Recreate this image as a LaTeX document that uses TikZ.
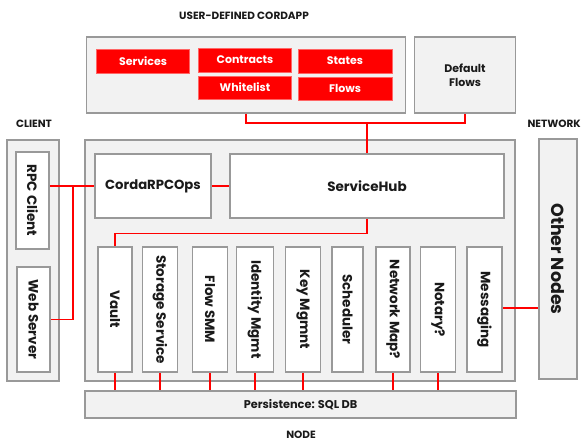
\documentclass[tikz,border=0pt]{standalone}
\usepackage{fontspec}
\usepackage{graphicx}
\setmainfont{Poppins}
\definecolor{boxgray}{HTML}{999999}
\definecolor{fillgray}{HTML}{F2F2F2}
\definecolor{cred}{HTML}{FF0000}
\definecolor{txt}{HTML}{1A1A1A}
\tikzset{
  outerbox/.style={draw=boxgray, line width=1.5pt, fill=fillgray, inner sep=0pt, rectangle},
  whitebox/.style={draw=boxgray, line width=1.5pt, fill=white, inner sep=0pt, rectangle, text=txt, font=\bfseries\fontsize{13.5}{16}\selectfont},
  redbox/.style={fill=cred, draw=cred!60!white, line width=0.8pt, inner sep=0pt, rectangle, text=white, font=\bfseries\fontsize{11}{13}\selectfont, minimum width=93pt, minimum height=24pt},
  svcbox/.style={whitebox, minimum height=125pt, font=\bfseries\fontsize{13.5}{15}\selectfont},
  lbl/.style={text=txt, font=\bfseries\fontsize{10.5}{12}\selectfont, inner sep=0pt},
  wire/.style={draw=cred, line width=1.5pt}
}
\newcommand{\vtext}[1]{\rotatebox[origin=c]{-90}{#1}}
\begin{document}
\begin{tikzpicture}[x=1pt,y=-1pt]
\useasboundingbox (0,0) rectangle (582,441);
% labels
\node[lbl] (title) at (244,16) {USER-DEFINED CORDAPP};
\node[lbl] (clientlbl) at (34,124) {CLIENT};
\node[lbl, anchor=east] (netlbl) at (581,124) {NETWORK};
\node[lbl] (nodelbl) at (301,435) {NODE};
% cordapp
\node[outerbox, minimum width=319pt, minimum height=76pt] (cordapp) at (246,75) {};
\node[redbox] (services) at (143,61) {Services};
\node[redbox] (contracts) at (245,60) {Contracts};
\node[redbox, minimum width=94pt] (states) at (345,61) {States};
\node[redbox, minimum height=23pt] (whitelist) at (245,87.5) {Whitelist};
\node[redbox, minimum width=94pt, minimum height=23pt] (flows) at (345,88.5) {Flows};
\node[outerbox, minimum width=101pt, minimum height=76pt, text=txt, font=\bfseries\fontsize{11}{14}\selectfont, align=center] (deflows) at (465,75) {Default\\Flows};
% client
\node[outerbox, minimum width=52pt, minimum height=241pt] (client) at (33,260.5) {};
\node[whitebox, minimum width=33pt, minimum height=97pt] (rpc) at (32.5,200.5) {\vtext{RPC Client}};
\node[whitebox, minimum width=33pt, minimum height=105pt] (web) at (33.5,319.5) {\vtext{Web Server}};
% node
\node[outerbox, minimum width=430pt, minimum height=241pt] (nodebox) at (300,260.5) {};
\node[whitebox, minimum width=116pt, minimum height=64pt, font=\bfseries\fontsize{13.2}{16}\selectfont] (cordarpc) at (153,186) {CordaRPCOps};
\node[whitebox, minimum width=274pt, minimum height=64pt] (hub) at (367,186) {ServiceHub};
\node[svcbox, minimum width=34pt] (vault) at (115,309.5) {\vtext{Vault}};
\node[svcbox, minimum width=35pt] (storage) at (160,309.5) {\vtext{Storage Service}};
\node[svcbox, minimum width=35pt] (flowsmm) at (210,309.5) {\vtext{Flow SMM}};
\node[svcbox, minimum width=37pt] (identity) at (255,309.5) {\vtext{Identity Mgmt}};
\node[svcbox, minimum width=35pt] (keymg) at (303,309.5) {\vtext{Key Mgmnt}};
\node[svcbox, minimum width=31pt] (sched) at (347.5,309.5) {\vtext{Scheduler}};
\node[svcbox, minimum width=34pt] (netmap) at (393,309.5) {\vtext{Network Map?}};
\node[svcbox, minimum width=35pt] (notary) at (438,309.5) {\vtext{Notary?}};
\node[svcbox, minimum width=35pt] (msg) at (484.5,309.5) {\vtext{Messaging}};
% other nodes
\node[outerbox, minimum width=38pt, minimum height=240pt, text=txt, font=\bfseries\fontsize{17.5}{20}\selectfont] (other) at (558,259) {\vtext{Other Nodes}};
% persistence
\node[outerbox, minimum width=431pt, minimum height=27pt, text=txt, font=\bfseries\fontsize{11.3}{13}\selectfont] (persist) at (300.5,404.5) {Persistence: SQL DB};
% connectors
\coordinate (bus) at (367,123);
\coordinate (wj) at (73,186);
\draw[wire] (cordapp.south) |- (bus) -| (deflows.south);
\draw[wire] (bus) -- (hub.north);
\draw[wire] (rpc.east |- cordarpc.west) -- (cordarpc.west);
\draw[wire] (web.east) -| (wj);
\draw[wire] (cordarpc.east) -- (hub.west);
\draw[wire] (hub.south) -- ++(0,15) -| (vault.north);
\draw[wire] ([yshift=1.5pt]msg.east) -- ([yshift=1.5pt]other.west |- msg.east);
\foreach \b in {vault,storage,flowsmm,identity,keymg,netmap,notary}
  \draw[wire] (\b.south) -- (\b.south |- persist.north);
\end{tikzpicture}
\end{document}
